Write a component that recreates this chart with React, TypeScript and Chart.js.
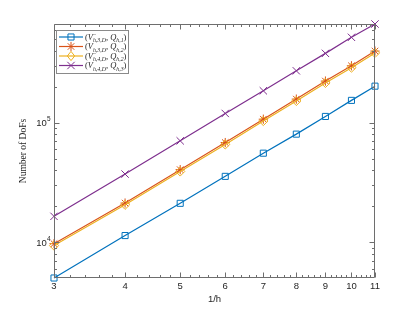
import React, { useEffect, useRef } from 'react';
import { Chart, registerables } from 'chart.js';

Chart.register(...registerables);

// ---- data ----
const hInv = [3, 4, 5, 6, 7, 8, 9, 10, 11];
const dofsV3mQ1 = [5040, 11400, 21200, 35600, 55600, 80200, 112700, 153500, 201800];
const dofsV3Q2 = [9750, 21300, 40500, 68200, 106900, 157300, 222500, 298600, 396300];
const dofsV4mQ2 = [9400, 20600, 39100, 65800, 103200, 151800, 214700, 288100, 382400];
const dofsV4Q3 = [16500, 37200, 70500, 119400, 184600, 271100, 379200, 516300, 667000];
const xTickLabels = ['3', '4', '5', '6', '7', '8', '9', '10', '11'];
const yMajorExponents = [4, 5];
const xAxisTitle = '1/h';
const yAxisTitle = 'Number of DoFs';

type Seg = { t: string; f?: 'it' | 'rm'; pos?: 'sub' | 'sup'; keep?: boolean };
const legendLabels: Seg[][] = [
  [{ t: '(' }, { t: 'V', f: 'it' }, { t: '\u2212', pos: 'sup', keep: true }, { t: 'h,3,D', f: 'it', pos: 'sub' }, { t: ', ' }, { t: 'Q', f: 'it' }, { t: 'h,1', f: 'it', pos: 'sub' }, { t: ')' }],
  [{ t: '(' }, { t: 'V', f: 'it' }, { t: 'h,3,D', f: 'it', pos: 'sub' }, { t: ', ' }, { t: 'Q', f: 'it' }, { t: 'h,2', f: 'it', pos: 'sub' }, { t: ')' }],
  [{ t: '(' }, { t: 'V', f: 'it' }, { t: '\u2212', pos: 'sup', keep: true }, { t: 'h,4,D', f: 'it', pos: 'sub' }, { t: ', ' }, { t: 'Q', f: 'it' }, { t: 'h,2', f: 'it', pos: 'sub' }, { t: ')' }],
  [{ t: '(' }, { t: 'V', f: 'it' }, { t: 'h,4,D', f: 'it', pos: 'sub' }, { t: ', ' }, { t: 'Q', f: 'it' }, { t: 'h,3', f: 'it', pos: 'sub' }, { t: ')' }],
];

const colors = ['#0072BD', '#D95319', '#EDB120', '#7E2F8E'];
const markers = ['rect', 'star', 'rectRot', 'crossRot'];
const radii = [4.3, 4.6, 4.6, 5.2];

const AXIS_COLOR = '#6e6e6e';
const TEXT_COLOR = '#262626';
const SANS = '"Liberation Sans", Arial, sans-serif';
const SERIF = '"Liberation Serif", "Times New Roman", serif';

function drawMarker(ctx: CanvasRenderingContext2D, style: string, x: number, y: number, r: number, color: string) {
  ctx.save();
  ctx.strokeStyle = color;
  ctx.lineWidth = 1;
  ctx.beginPath();
  const d = r * Math.SQRT1_2;
  if (style === 'rect') {
    ctx.rect(x - d, y - d, 2 * d, 2 * d);
  } else if (style === 'rectRot') {
    ctx.moveTo(x, y - r);
    ctx.lineTo(x + r * 0.8, y);
    ctx.lineTo(x, y + r);
    ctx.lineTo(x - r * 0.8, y);
    ctx.closePath();
  } else if (style === 'star') {
    ctx.moveTo(x - r, y); ctx.lineTo(x + r, y);
    ctx.moveTo(x, y - r); ctx.lineTo(x, y + r);
    ctx.moveTo(x - d, y - d); ctx.lineTo(x + d, y + d);
    ctx.moveTo(x - d, y + d); ctx.lineTo(x + d, y - d);
  } else if (style === 'crossRot') {
    ctx.moveTo(x - d, y - d); ctx.lineTo(x + d, y + d);
    ctx.moveTo(x - d, y + d); ctx.lineTo(x + d, y - d);
  }
  ctx.stroke();
  ctx.restore();
}

function drawRich(ctx: CanvasRenderingContext2D, x: number, y: number, segs: Seg[]) {
  let cx = x;
  for (const s of segs) {
    const small = s.pos === 'sub' || s.pos === 'sup';
    const size = small ? 5.8 : 8.5;
    ctx.font = `${s.f === 'it' ? 'italic ' : ''}${size}px ${SERIF}`;
    const dy = s.pos === 'sub' ? 2.6 : s.pos === 'sup' ? -3.4 : 0;
    ctx.fillText(s.t, cx, y + dy);
    if (!s.keep) cx += ctx.measureText(s.t).width;
  }
}

const matlabAxes = {
  id: 'matlabAxes',
  afterDraw(chart: any) {
    const { ctx, chartArea: a, scales } = chart;
    const xs = scales.x;
    const ys = scales.y;
    const L = Math.round(a.left) + 0.5;
    const R = Math.round(a.right) - 0.5;
    const T = Math.round(a.top) + 0.5;
    const B = Math.round(a.bottom) - 0.5;
    ctx.save();
    ctx.strokeStyle = AXIS_COLOR;
    ctx.lineWidth = 1;
    ctx.beginPath();
    ctx.rect(L, T, R - L, B - T);
    ctx.stroke();

    // x ticks (major at integers, minor each 0.2)
    ctx.beginPath();
    for (let i = 15; i <= 55; i++) {
      const v = i / 5;
      const px = Math.round(xs.getPixelForValue(v)) + 0.5;
      const len = i % 5 === 0 ? 5 : 2.5;
      ctx.moveTo(px, B); ctx.lineTo(px, B - len);
      ctx.moveTo(px, T); ctx.lineTo(px, T + len);
    }
    // y ticks (log)
    for (let e = 3; e <= 6; e++) {
      for (let m = 1; m <= 9; m++) {
        const v = m * Math.pow(10, e);
        if (v < ys.min || v > ys.max) continue;
        const py = Math.round(ys.getPixelForValue(v)) + 0.5;
        const len = m === 1 ? 5 : 2.5;
        ctx.moveTo(L, py); ctx.lineTo(L + len, py);
        ctx.moveTo(R, py); ctx.lineTo(R - len, py);
      }
    }
    ctx.stroke();

    // tick labels
    ctx.fillStyle = TEXT_COLOR;
    ctx.font = `9.5px ${SANS}`;
    ctx.textAlign = 'center';
    ctx.textBaseline = 'top';
    hInv.forEach((v, i) => {
      ctx.fillText(xTickLabels[i], xs.getPixelForValue(v), B + 4);
    });
    ctx.textBaseline = 'alphabetic';
    yMajorExponents.forEach((e) => {
      const py = ys.getPixelForValue(Math.pow(10, e));
      ctx.font = `6.5px ${SANS}`;
      ctx.textAlign = 'left';
      const ew = ctx.measureText(String(e)).width;
      const ex = L - 4 - ew;
      ctx.fillText(String(e), ex, py - 1.5);
      ctx.font = `9.5px ${SANS}`;
      ctx.textAlign = 'right';
      ctx.fillText('10', ex, py + 3.5);
    });

    // axis titles
    ctx.font = `9.5px ${SANS}`;
    ctx.textAlign = 'center';
    ctx.textBaseline = 'middle';
    ctx.fillText(xAxisTitle, (a.left + a.right) / 2, 299);
    ctx.save();
    ctx.translate(23, (a.top + a.bottom) / 2);
    ctx.rotate(-Math.PI / 2);
    ctx.font = `9.5px ${SERIF}`;
    ctx.fillText(yAxisTitle, 0, 0);
    ctx.restore();

    // legend
    const bx = 56.5, by = 30.5, bw = 72, bh = 43;
    ctx.fillStyle = '#ffffff';
    ctx.fillRect(bx, by, bw, bh);
    ctx.strokeStyle = '#8a8a8a';
    ctx.strokeRect(bx, by, bw, bh);
    const rowY = [37, 46.5, 56, 65.5];
    legendLabels.forEach((segs, i) => {
      const y = rowY[i];
      ctx.strokeStyle = colors[i];
      ctx.lineWidth = 1.2;
      ctx.beginPath();
      ctx.moveTo(59, y); ctx.lineTo(83, y);
      ctx.stroke();
      drawMarker(ctx, markers[i], 71, y, radii[i], colors[i]);
      ctx.fillStyle = TEXT_COLOR;
      ctx.textAlign = 'left';
      ctx.textBaseline = 'alphabetic';
      drawRich(ctx, 85, y + 2.5, segs);
    });
    ctx.restore();
  },
};

export default function App() {
  const ref = useRef<HTMLCanvasElement | null>(null);
  useEffect(() => {
    document.body.style.margin = '0';
    const canvas = ref.current!;
    const series = [dofsV3mQ1, dofsV3Q2, dofsV4mQ2, dofsV4Q3];
    const order = [3, 2, 1, 0];
    const all = series.flat();
    const chart = new Chart(canvas, {
      type: 'line',
      data: {
        datasets: series.map((s, i) => ({
          label: `series${i}`,
          data: hInv.map((x, j) => ({ x, y: s[j] })),
          borderColor: colors[i],
          backgroundColor: 'rgba(0,0,0,0)',
          borderWidth: 1.2,
          pointStyle: markers[i] as any,
          pointRadius: radii[i],
          pointBorderWidth: 1,
          pointBorderColor: colors[i],
          pointBackgroundColor: 'rgba(0,0,0,0)',
          tension: 0,
          clip: false as any,
          order: order[i],
        })),
      },
      options: {
        animation: false,
        responsive: false,
        events: [],
        layout: { padding: { left: 54, right: 40, top: 24, bottom: 34 } },
        plugins: { legend: { display: false }, tooltip: { enabled: false } },
        scales: {
          x: { type: 'logarithmic', min: 3, max: 11, display: false },
          y: { type: 'logarithmic', min: Math.min(...all), max: Math.max(...all), display: false },
        },
      },
      plugins: [matlabAxes],
    });
    return () => chart.destroy();
  }, []);
  return (
    <div style={{ width: 415, height: 312, background: '#fff' }}>
      <canvas ref={ref} width={415} height={312} style={{ display: 'block' }} />
    </div>
  );
}
